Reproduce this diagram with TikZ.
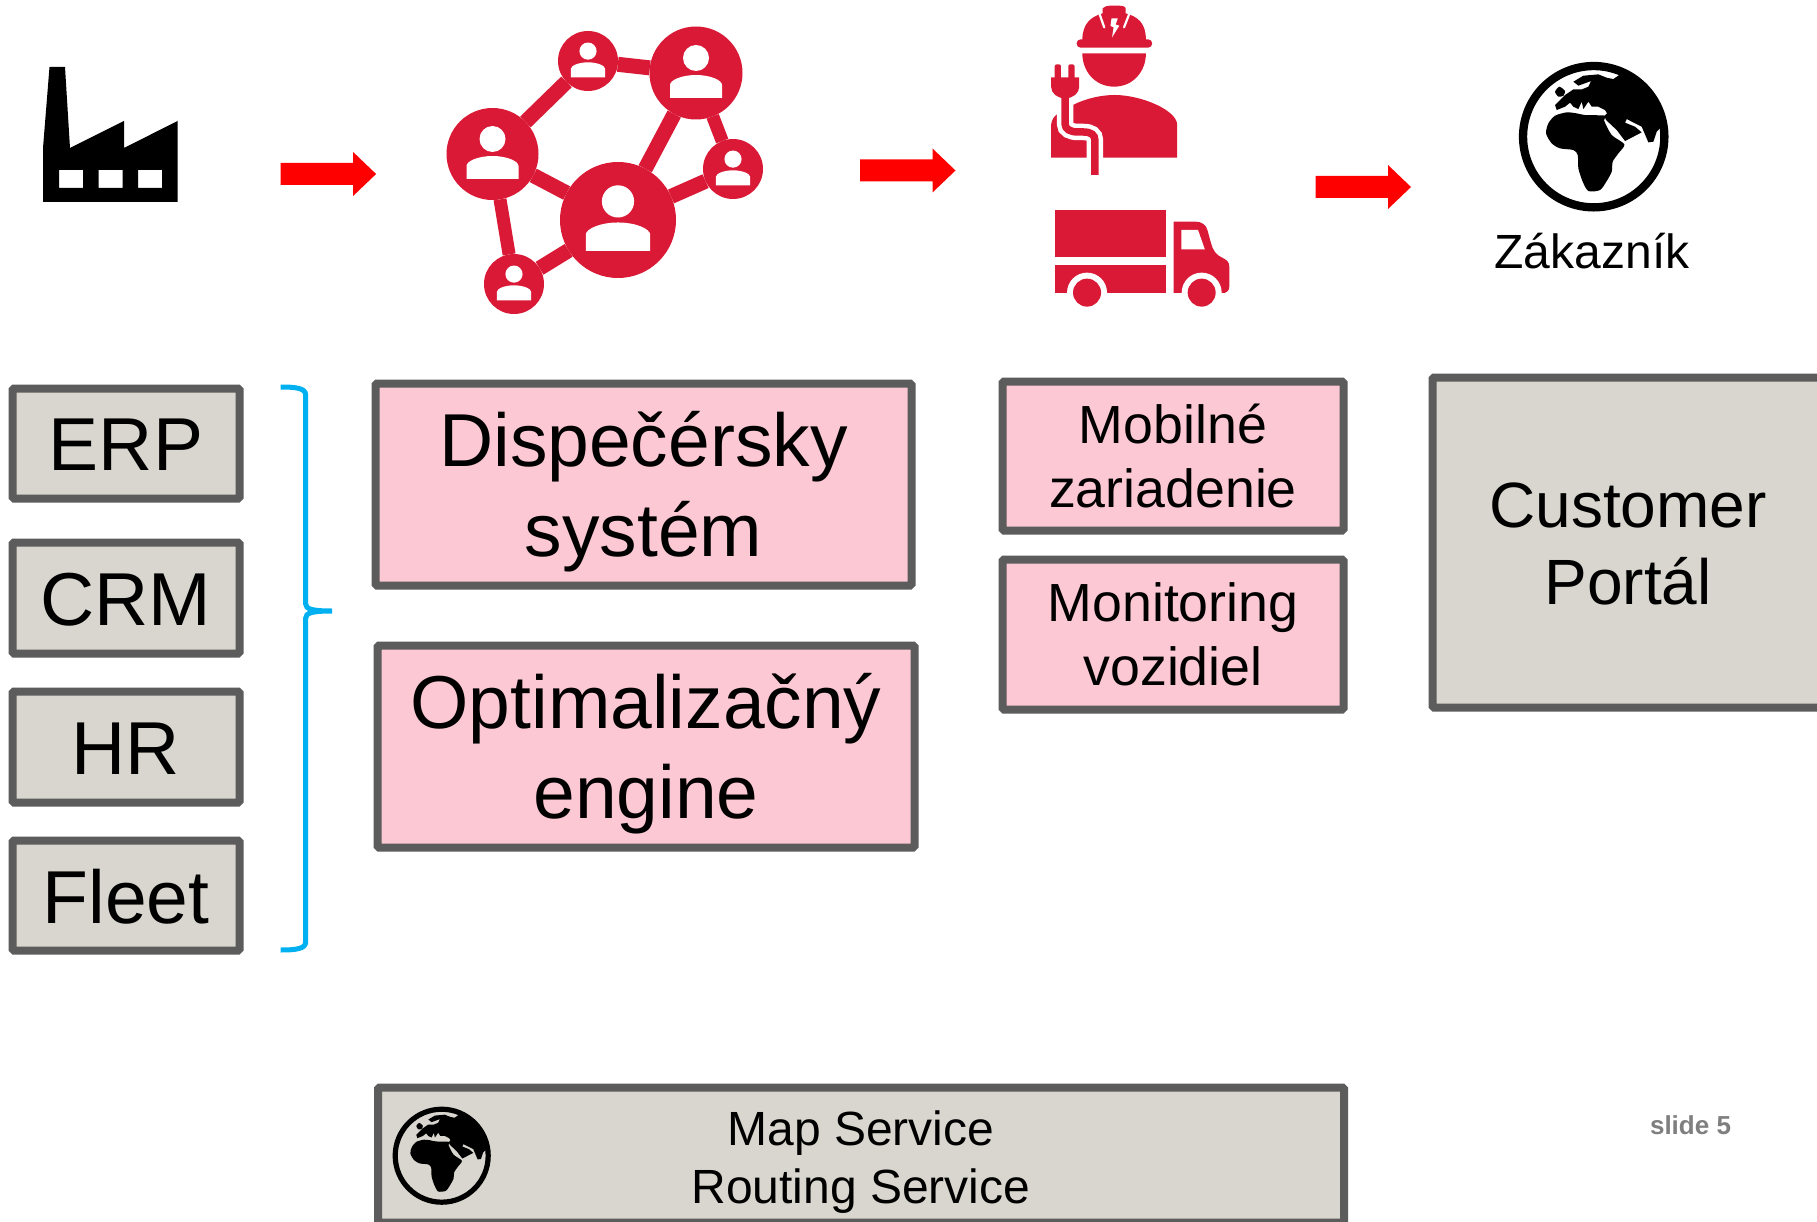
\documentclass[tikz,border=0pt]{standalone}
\usepackage{fontspec}
\setmainfont{Liberation Sans}
\definecolor{boxgray}{HTML}{D8D6CE}
\definecolor{boxpink}{HTML}{FBC8D3}
\definecolor{boxline}{HTML}{5C5C5C}
\definecolor{iconred}{HTML}{DA1937}
\definecolor{bracecol}{HTML}{00B0F0}
\definecolor{slidegray}{HTML}{7F7F7F}
\tikzset{
  basebox/.style={draw=boxline,line width=8pt,rounded corners=1.5pt,inner sep=0pt,outer sep=0pt,align=center,text=black},
  graybox/.style={basebox,fill=boxgray},
  pinkbox/.style={basebox,fill=boxpink},
  boxtext/.style={align=center,inner sep=0pt,text=black},
  netnode/.style={circle,fill=iconred,inner sep=0pt,outer sep=0pt},
  netedge/.style={draw=iconred,line width=15pt},
  netthin/.style={draw=iconred,line width=13pt},
  flow/.style={fill=red},
}
\newcommand{\flowarrow}[2]{% start x, centre y
  \fill[flow,shift={(#1,#2)}] (0,-11) -- (72.5,-11) -- (72.5,-22) -- (95.5,0) -- (72.5,22) -- (72.5,11) -- (0,11) -- cycle;}
\newcommand{\personicon}[3]{% centre x, centre y, scale
  \begin{scope}[shift={(#1,#2)},x=#3pt,y=-#3pt]
    \fill[white] (0,-15) circle[radius=13*#3pt];
    \fill[white] (-26,25) -- (-26,12) .. controls (-26,7) and (-14,2) .. (0,2) .. controls (14,2) and (26,7) .. (26,12) -- (26,25) -- cycle;
  \end{scope}}
\newcommand{\globeicon}[4]{% centre x, centre y, scale, ring width
  \begin{scope}[shift={(#1,#2)},x=#3pt,y=-#3pt,shift={(-251,-245)}]
    \fill plot[smooth cycle,tension=0.45] coordinates {(115,205) (135,182) (170,172) (200,175) (225,180) (285,182) (282,196) (305,240) (343,268) (325,295) (308,320) (305,350) (290,378) (270,405) (235,408) (218,380) (205,340) (203,300) (190,285) (150,280) (125,265) (108,235)};
    \fill plot[smooth cycle,tension=0.4] coordinates {(135,110) (148,95) (165,108) (160,122) (145,125)};
    \fill (330,58) -- (310,72) -- (290,68) -- (265,58) -- (220,62) -- (190,80) -- (205,92) -- (243,78) -- (235,95) -- (215,103) -- (190,103) -- (165,120) -- (135,150) -- (140,165) -- (165,155) -- (180,143) -- (190,155) -- (205,162) -- (215,140) -- (220,162) -- (235,140) -- (245,155) -- (265,155) -- (285,165) -- (291,175) -- (283,183) -- (288,195) -- (320,225) -- (345,258) -- (395,232) -- (375,215) -- (345,203) -- (350,192) -- (375,205) -- (395,215) -- (415,262) -- (430,260) -- (440,230) -- (452,218) -- (470,245) -- (440,130) -- (400,80) -- (345,52) -- cycle;
    \draw[line width=#4pt] (251,245) circle[radius=212*#3pt];
  \end{scope}}
\begin{document}
\begin{tikzpicture}[x=1pt,y=-1pt]
\clip (0,0) rectangle (1817,1222);
\fill[white] (0,0) rectangle (1817,1222);

% factory
\fill[even odd rule] (49.5,67) -- (65,67) -- (70,148) -- (124,121) -- (124,148) -- (177.5,121) -- (177.5,202) -- (43,202) -- (43,148) -- cycle
  (59,170) rectangle (83,188) (98.5,170) rectangle (122.5,188) (138,170) rectangle (162,188);

% arrows
\flowarrow{280.6}{174}
\flowarrow{860}{170.5}
\flowarrow{1315.5}{187}

% network
\node[netnode,minimum size=92pt] (nleft) at (492.5,154) {};
\node[netnode,minimum size=60pt] (ntop) at (588,61) {};
\node[netnode,minimum size=93pt] (ntr) at (696,73) {};
\node[netnode,minimum size=116pt] (ncen) at (618,220) {};
\node[netnode,minimum size=60pt] (nright) at (733,169) {};
\node[netnode,minimum size=60pt] (nbot) at (514,284) {};
\draw[netedge] (nleft) -- (ntop);
\draw[netedge] (ntop) -- (ntr);
\draw[netedge] (ntr) -- (ncen);
\draw[netthin] (ntr) -- (nright);
\draw[netedge] (ncen) -- (nright);
\draw[netedge] (ncen) -- (nleft);
\draw[netthin] (nleft) -- (nbot);
\draw[netedge] (nbot) -- (ncen);
\personicon{492.5}{154}{1}
\personicon{588}{61}{0.66}
\personicon{696}{73}{1}
\personicon{618}{220}{1.24}
\personicon{733}{169}{0.66}
\personicon{514}{284}{0.66}

% worker and truck
\begin{scope}[shift={(1000,0)},x=0.5211pt,y=-0.3333pt]
  \fill[iconred] (158,120) .. controls (158,70) and (175,50) .. (197,40) -- (197,25) .. controls (200,20) and (205,17) .. (212,17) -- (228,17) .. controls (235,17) and (241,20) .. (241,25) -- (241,40) .. controls (265,50) and (280,70) .. (280,120) -- cycle;
  \fill[iconred,rounded corners=4pt] (147,118) rectangle (292,143);
  \draw[white,line width=2.2pt,line cap=round] (191,42) -- (200,82) (248,42) -- (238,82);
  \fill[white] (214,55) -- (226,55) -- (222,74) -- (229,77) -- (215,112) -- (218,82) -- (212,78) -- cycle;
  \fill[iconred] (158,160) -- (280,160) .. controls (280,215) and (255,260) .. (219,260) .. controls (183,260) and (158,215) .. (158,160) -- cycle;
  \fill[iconred] (98,473) -- (98,375) .. controls (100,350) and (108,340) .. (140,315) .. controls (165,295) and (195,285) .. (220,285) .. controls (270,285) and (340,330) .. (340,375) -- (340,473) -- cycle;
  \draw[white,line width=16.5pt] (125,295) -- (125,372) .. controls (125,388) and (135,396) .. (150,396) -- (160,396) .. controls (175,396) and (182,405) .. (182,420) -- (182,525);
  \draw[iconred,line width=7.5pt] (125,290) -- (125,372) .. controls (125,388) and (135,396) .. (150,396) -- (160,396) .. controls (175,396) and (182,405) .. (182,420) -- (182,525);
  \fill[iconred,rounded corners=2pt] (105,193) rectangle (117,240) (131,193) rectangle (143,240);
  \fill[iconred] (98,232) -- (152,232) -- (152,260) .. controls (152,280) and (140,295) .. (125,295) .. controls (110,295) and (98,280) .. (98,260) -- cycle;
  \fill[iconred] (105,630) rectangle (319,772);
  \fill[iconred] (105,796) rectangle (319,880);
  \fill[iconred] (333,880) -- (333,665) -- (375,665) .. controls (388,665) and (395,675) .. (398,690) -- (405,730) .. controls (408,750) and (415,765) .. (425,772) .. controls (435,780) and (440,785) .. (440,800) -- (440,860) .. controls (440,872) and (435,880) .. (425,880) -- cycle;
  \fill[white] (348,690) -- (380,690) -- (393,748) -- (348,748) -- cycle;
  \fill[white] (167,878) circle[radius=20pt] (387,878) circle[radius=20pt];
  \fill[white] (105,880) rectangle (440,930);
  \fill[iconred] (167,878) circle[radius=14pt] (387,878) circle[radius=14pt];
\end{scope}

% customer globe
\globeicon{1593.7}{136.7}{0.3333}{8.3}
\node[inner sep=0pt,font=\fontsize{48}{56}\selectfont] (zak) at (1592,251) {Zákazník};

% left boxes
\node[graybox,minimum width=227pt,minimum height=110pt,label={[boxtext,font=\fontsize{75}{84}\selectfont,yshift=-1.5pt]center:ERP}] (erp) at (126,443.5) {};
\node[graybox,minimum width=227pt,minimum height=111pt,label={[boxtext,font=\fontsize{75}{84}\selectfont,yshift=-1.5pt]center:CRM}] (crm) at (126,598) {};
\node[graybox,minimum width=227pt,minimum height=111pt,label={[boxtext,font=\fontsize{75}{84}\selectfont,yshift=-1.5pt]center:HR}] (hr) at (126,747) {};
\node[graybox,minimum width=227pt,minimum height=110pt,label={[boxtext,font=\fontsize{75}{84}\selectfont,yshift=-1.5pt]center:Fleet}] (fleet) at (126,895.5) {};

% brace
\coordinate (bracetop) at (280.7,387);
\coordinate (bracetip) at (332,611);
\coordinate (bracebot) at (280.7,950);
\draw[bracecol,line width=5pt] (bracetop) .. controls (295,387) and (305.7,388) .. (305.7,395) -- (305.7,604) .. controls (305.7,609) and (312,611) .. (bracetip) .. controls (312,611) and (305.7,613) .. (305.7,618) -- (305.7,942) .. controls (305.7,949) and (295,950) .. (bracebot);

% pink boxes
\node[pinkbox,minimum width=536pt,minimum height=202pt,label={[boxtext,font=\fontsize{75}{90}\selectfont,yshift=-7.5pt]center:{Dispečérsky\\systém}}] (disp) at (643.5,484.5) {};
\node[pinkbox,minimum width=537pt,minimum height=202pt,label={[boxtext,font=\fontsize{75}{90}\selectfont,yshift=-7.5pt]center:{Optimalizačný\\engine}}] (opt) at (646,746.5) {};
\node[pinkbox,minimum width=341pt,minimum height=149pt,font=\fontsize{53.7}{64}\selectfont] (mob) at (1173,456) {Mobilné\\zariadenie};
\node[pinkbox,minimum width=341pt,minimum height=150pt,font=\fontsize{53.7}{64}\selectfont] (mon) at (1173,634.5) {Monitoring\\vozidiel};

% portal
\node[graybox,minimum width=391pt,minimum height=330pt,label={[boxtext,font=\fontsize{64}{77}\selectfont,yshift=-1pt]center:{Customer\\Portál}}] (portal) at (1628,542.5) {};

% map service
\node[graybox,minimum width=966pt,minimum height=135pt,label={[boxtext,font=\fontsize{48}{58}\selectfont,yshift=-7pt]center:{Map Service\\Routing Service}}] (map) at (861,1155) {};
\globeicon{441.7}{1155.7}{0.2193}{5.2}

% slide number
\node[inner sep=0pt,font=\fontsize{26}{30}\selectfont\bfseries,text=slidegray] (slide) at (1690.5,1125) {slide 5};
\end{tikzpicture}
\end{document}
